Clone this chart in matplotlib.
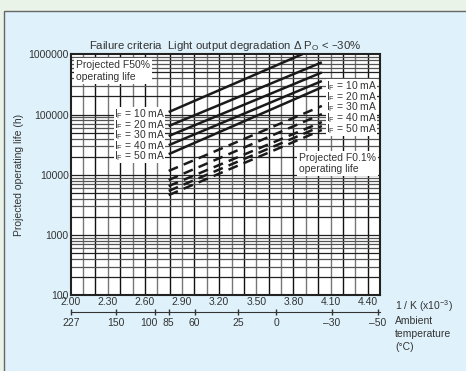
import numpy as np
import matplotlib.pyplot as plt
import matplotlib.transforms as mtransforms
from matplotlib.patches import Rectangle

plt.rcParams['font.family'] = ['Liberation Sans', 'DejaVu Sans']
plt.rcParams['mathtext.default'] = 'regular'

# line endpoints: 1/K (x10^-3) at 85 C and about -25 C
x_ends = [2.792, 4.03]
currents = ["10", "20", "30", "40", "50"]
# projected F50% life (h), solid lines
f50_start = [110000, 64500, 44000, 31000, 22000]
f50_end = [1390000, 736000, 500000, 360000, 283000]
# projected F0.1% life (h), dashed lines
f01_start = [11600, 8200, 6500, 5400, 4600]
f01_end = [139000, 102000, 75000, 64500, 55500]

x_ticks = [2.00, 2.30, 2.60, 2.90, 3.20, 3.50, 3.80, 4.10, 4.40]
y_ticks = [100, 1000, 10000, 100000, 1000000]
temp_ticks = [226.85, 150, 100, 85, 60, 25, 0, -30, -50]
temp_labels = ["227", "150", "100", "85", "60", "25", "0", "\u201330", "\u201350"]

W, H = 466, 371
fig = plt.figure(figsize=(W / 100, H / 100), dpi=100)
fig.patch.set_facecolor("#e9f3e7")
panel = Rectangle((4 / W, -0.01), 1.0, 1 - 11 / H + 0.01, transform=fig.transFigure,
                  facecolor="#dff2fb", edgecolor="#666666", lw=1.0, zorder=-5)
fig.add_artist(panel)

ax = fig.add_axes([70.7 / W, 1 - 295.3 / H, 309.3 / W, 241 / H])
ax.set_zorder(2)
ax.set_facecolor("white")
ax.set_yscale("log")
ax.set_xlim(2.0, 4.5)
ax.set_ylim(100, 1000000)

# grid
for i, xv in enumerate(np.arange(2.1, 4.45, 0.1)):
    ax.axvline(xv, color="#111111" if i % 2 else "#777777", lw=1.0, zorder=1)
for dec in [100, 1000, 10000, 100000]:
    for m in range(1, 10):
        ax.axhline(dec * m, color="#222222" if m in (1, 2, 5) else "#555555", lw=0.9, zorder=1)

for s, e in zip(f50_start, f50_end):
    ax.plot(x_ends, [s, e], color="#1a1a1a", lw=1.8, solid_capstyle="butt", zorder=3)
for s, e in zip(f01_start, f01_end):
    ax.plot(x_ends, [s, e], color="#1a1a1a", lw=1.8, dashes=(4, 2.5), zorder=3)

ax.set_xticks(x_ticks)
ax.set_xticklabels(["%.2f" % v for v in x_ticks])
ax.set_yticks(y_ticks)
ax.set_yticklabels([str(v) for v in y_ticks])
ax.yaxis.set_minor_locator(plt.NullLocator())
ax.tick_params(axis="both", length=0, labelsize=7.5, colors="#333333", pad=1.5)
for sp in ax.spines.values():
    sp.set_linewidth(1.5)
    sp.set_color("#222222")

sec = ax.secondary_xaxis(-0.07, functions=(lambda x: 1000.0 / x - 273.15,
                                          lambda t: 1000.0 / (t + 273.15)))
sec.set_xticks(temp_ticks)
sec.set_xticklabels(temp_labels)
sec.tick_params(direction="inout", length=5, width=1, colors="#333333", labelsize=7.5, pad=2)
sec.spines["bottom"].set_color("#333333")
for t in sec.get_xticklabels():
    if t.get_text() == "100":
        t.set_transform(t.get_transform() +
                        mtransforms.ScaledTranslation(-4 / 72, 0, fig.dpi_scale_trans))

ax.set_ylabel("Projected operating life (h)", fontsize=7.5, color="#333333")
ax.yaxis.set_label_coords((24 - 70.7) / 309.3, 0.5)

ax.set_title("Failure criteria  Light output degradation \u0394 P$_{O}$ < \u201330%",
             fontsize=8.2, color="#333333", pad=4)

box = dict(facecolor="white", edgecolor="none", pad=0.0)
ly = [0.752, 0.707, 0.665, 0.620, 0.578]
ry = [0.868, 0.823, 0.781, 0.736, 0.690]
for c, a, b in zip(currents, ly, ry):
    lab = "I$_{F}$ = %s mA" % c
    ax.text(0.305, a, lab, transform=ax.transAxes, ha="right", va="center",
            fontsize=7.4, color="#333333", bbox=box, zorder=4)
    ax.text(0.989, b, lab, transform=ax.transAxes, ha="right", va="center",
            fontsize=7.4, color="#333333", bbox=box, zorder=4)

ax.text(0.017, 0.975, "Projected F50%\noperating life", transform=ax.transAxes,
        ha="left", va="top", fontsize=7.5, color="#333333", linespacing=1.15,
        bbox=dict(facecolor="white", edgecolor="none", pad=1.5), zorder=4)
ax.text(0.739, 0.592, "Projected F0.1%\noperating life", transform=ax.transAxes,
        ha="left", va="top", fontsize=7.5, color="#333333", linespacing=1.15,
        bbox=dict(facecolor="white", edgecolor="none", pad=1.5), zorder=4)

fig.text(395 / W, 1 - 306 / H, "1 / K (x10$^{-3}$)", ha="left", va="center",
         fontsize=7.5, color="#333333")
fig.text(395 / W, 1 - 316 / H, "Ambient\ntemperature\n(\u00b0C)", ha="left", va="top",
         fontsize=7.5, color="#333333", linespacing=1.35)

fig.savefig("out.png", dpi=100, facecolor=fig.get_facecolor())
